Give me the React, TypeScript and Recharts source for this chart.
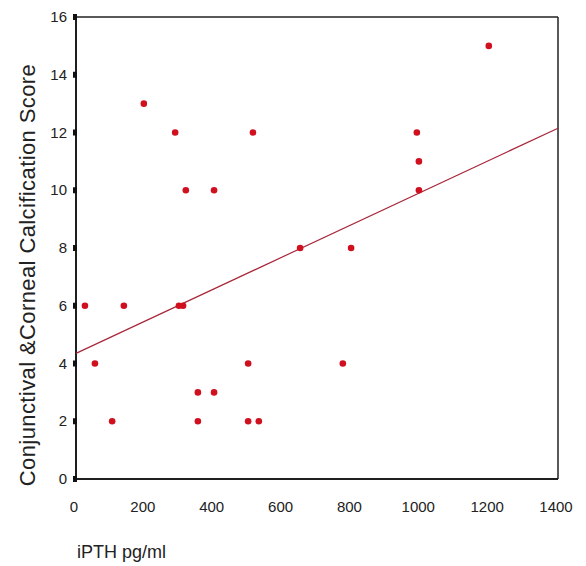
import { ReferenceLine, Scatter, ScatterChart, XAxis, YAxis } from "recharts"

// iPTH (pg/ml) vs calcification score
const iPTH = [26, 139, 299, 311, 55, 105, 197, 288, 319, 401, 514, 354, 401, 354, 500, 500, 531, 651, 799, 775, 990, 996, 996, 1199]
const score = [6, 6, 6, 6, 4, 2, 13, 12, 10, 10, 12, 3, 3, 2, 4, 2, 2, 8, 8, 4, 12, 11, 10, 15]

// fitted regression line end points
const fitX = [0, 1400]
const fitY = [4.35, 12.15]

const xTicks = [0, 200, 400, 600, 800, 1000, 1200, 1400]
const yTicks = [0, 2, 4, 6, 8, 10, 12, 14, 16]

const points = iPTH.map((x, i) => ({ x, y: score[i] }))
const fit = fitX.map((x, i) => ({ x, y: fitY[i] }))

const font = "'Liberation Sans', Arial, sans-serif"

const YTick = (props: any) => {
  const { x, y, payload } = props
  return (
    <g>
      <rect x={x + 5} y={y - 3} width={4} height={6} fill="#111" />
      <text x={x - 1} y={y} dy={5} textAnchor="end" fontSize={15} fontFamily={font} fill="#222">
        {payload.value}
      </text>
    </g>
  )
}

const XTick = (props: any) => {
  const { x, y, payload } = props
  return (
    <text x={x - 2} y={y + 25} textAnchor="middle" fontSize={15} fontFamily={font} fill="#222">
      {payload.value}
    </text>
  )
}

const Dot = (props: any) => {
  const { cx, cy } = props
  return <circle cx={cx} cy={cy} r={3.3} fill="#d0101e" />
}

export default function App() {
  return (
    <div>
      <style>{`body{margin:0;background:#fff}`}</style>
      <ScatterChart width={586} height={566} margin={{ top: 17, right: 28, left: 0, bottom: 0 }}>
        <XAxis
          type="number"
          dataKey="x"
          domain={[0, 1400]}
          ticks={xTicks}
          height={87}
          tickLine={false}
          axisLine
          stroke="#111"
          strokeWidth={1.5}
          tick={<XTick />}
          label={{
            value: "iPTH pg/ml",
            content: () => (
              <text x={77} y={558} fontSize={18} fontFamily={font} fill="#222">
                iPTH pg/ml
              </text>
            ),
          }}
        />
        <YAxis
          type="number"
          dataKey="y"
          domain={[0, 16]}
          ticks={yTicks}
          width={76}
          tickLine={false}
          axisLine
          stroke="#111"
          strokeWidth={1.5}
          tick={<YTick />}
          label={{
            value: "Conjunctival &Corneal Calcification Score",
            content: () => (
              <text
                x={35}
                y={275}
                transform="rotate(-90 35 275)"
                textAnchor="middle"
                fontSize={22}
                letterSpacing={0.4}
                fontFamily={font}
                fill="#222"
              >
                Conjunctival &amp;Corneal Calcification Score
              </text>
            ),
          }}
        />
        <ReferenceLine y={16} stroke="#222" strokeWidth={1.5} />
        <ReferenceLine x={1400} stroke="#222" strokeWidth={1.5} />
        <ReferenceLine y={0} stroke="#111" strokeWidth={1.5} />
        <ReferenceLine x={0} stroke="#111" strokeWidth={1.5} />
        <Scatter
          data={fit}
          line={{ stroke: "#a8283a", strokeWidth: 1.2 }}
          shape={() => null}
          isAnimationActive={false}
        />
        <Scatter data={points} shape={<Dot />} isAnimationActive={false} />
      </ScatterChart>
    </div>
  )
}
